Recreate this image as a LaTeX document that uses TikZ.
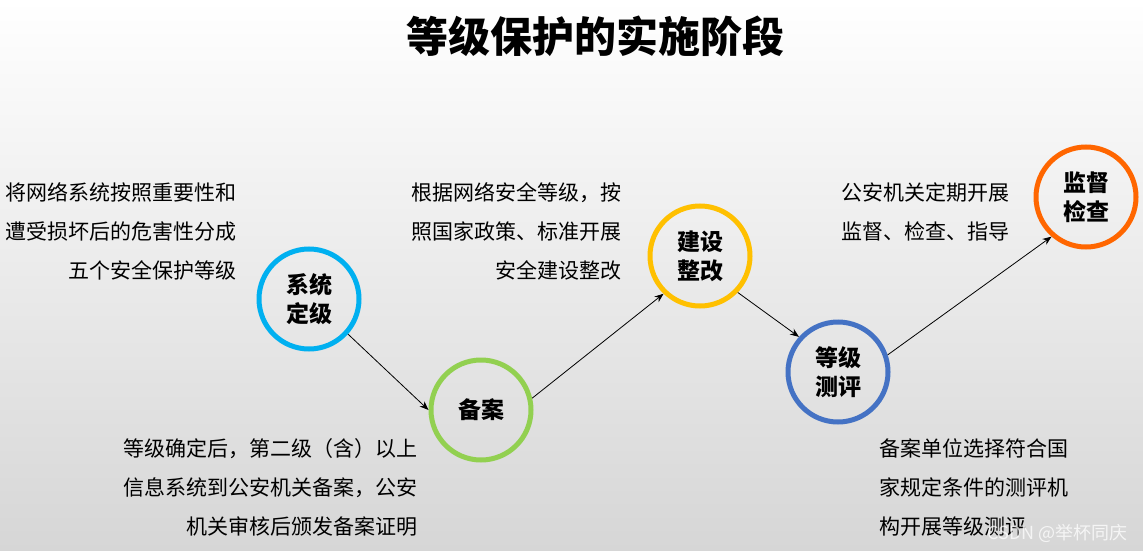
\documentclass[tikz,border=0pt]{standalone}
\usepackage{fontspec}
\setmainfont{Noto Sans CJK SC}
\usetikzlibrary{arrows.meta}
\definecolor{bgbot}{RGB}{214,214,214}
\definecolor{cblue}{RGB}{0,176,240}
\definecolor{cgreen}{RGB}{146,208,80}
\definecolor{cyellow}{RGB}{255,192,0}
\definecolor{cdblue}{RGB}{68,114,196}
\definecolor{corange}{RGB}{255,102,0}
\tikzset{
  stage/.style={circle, draw=#1, line width=5pt, minimum size=100pt, inner sep=0pt,
    align=center, font=\fontsize{23}{29}\selectfont\bfseries},
  desc/.style={inner sep=0pt, font=\fontsize{21}{39}\selectfont},
  link/.style={line width=0.8pt, -{Stealth[length=9pt,width=7pt]}}
}
\begin{document}
\begin{tikzpicture}[x=1pt,y=-1pt]
\shade[top color=white, bottom color=bgbot, middle color=white!50!bgbot, shading angle=0] (0,0) rectangle (1143,551);
\useasboundingbox (0,0) rectangle (1143,551);

\node[inner sep=0pt, font=\fontsize{42}{48}\selectfont\bfseries] (title) at (595,36) {等级保护的实施阶段};

\node[stage=cblue]   (s1) at (309,299) {系统\\定级};
\node[stage=cgreen]  (s2) at (481,410) {备案};
\node[stage=cyellow] (s3) at (700,256) {建设\\整改};
\node[stage=cdblue]  (s4) at (838,372) {等级\\测评};
\node[stage=corange] (s5) at (1086,197) {监督\\检查};

\draw[link] (s1.-42) -- (s2.180);
\draw[link] (s2.13) -- (s3.226);
\draw[link] (s3.-44) -- (s4.138);
\draw[link] (s4.19) -- (s5.229);

\node[desc, align=right, anchor=east] (t1) at (237,231) {将网络系统按照重要性和\\遭受损坏后的危害性分成\\五个安全保护等级};
\node[desc, align=right, anchor=east] (t2) at (622,231) {根据网络安全等级，按\\照国家政策、标准开展\\安全建设整改};
\node[desc, align=left, anchor=west] (t3) at (841,212) {公安机关定期开展\\监督、检查、指导};
\node[desc, align=right, anchor=east] (t4) at (418,487) {等级确定后，第二级（含）以上\\信息系统到公安机关备案，公安\\机关审核后颁发备案证明};
\node[desc, align=left, anchor=west] (t5) at (879,487) {备案单位选择符合国\\家规定条件的测评机\\构开展等级测评};

\node[inner sep=0pt, anchor=east, text=white, opacity=0.75, font=\fontsize{18}{20}\selectfont] (wm) at (1128,533) {CSDN @举杯同庆};
\end{tikzpicture}
\end{document}
